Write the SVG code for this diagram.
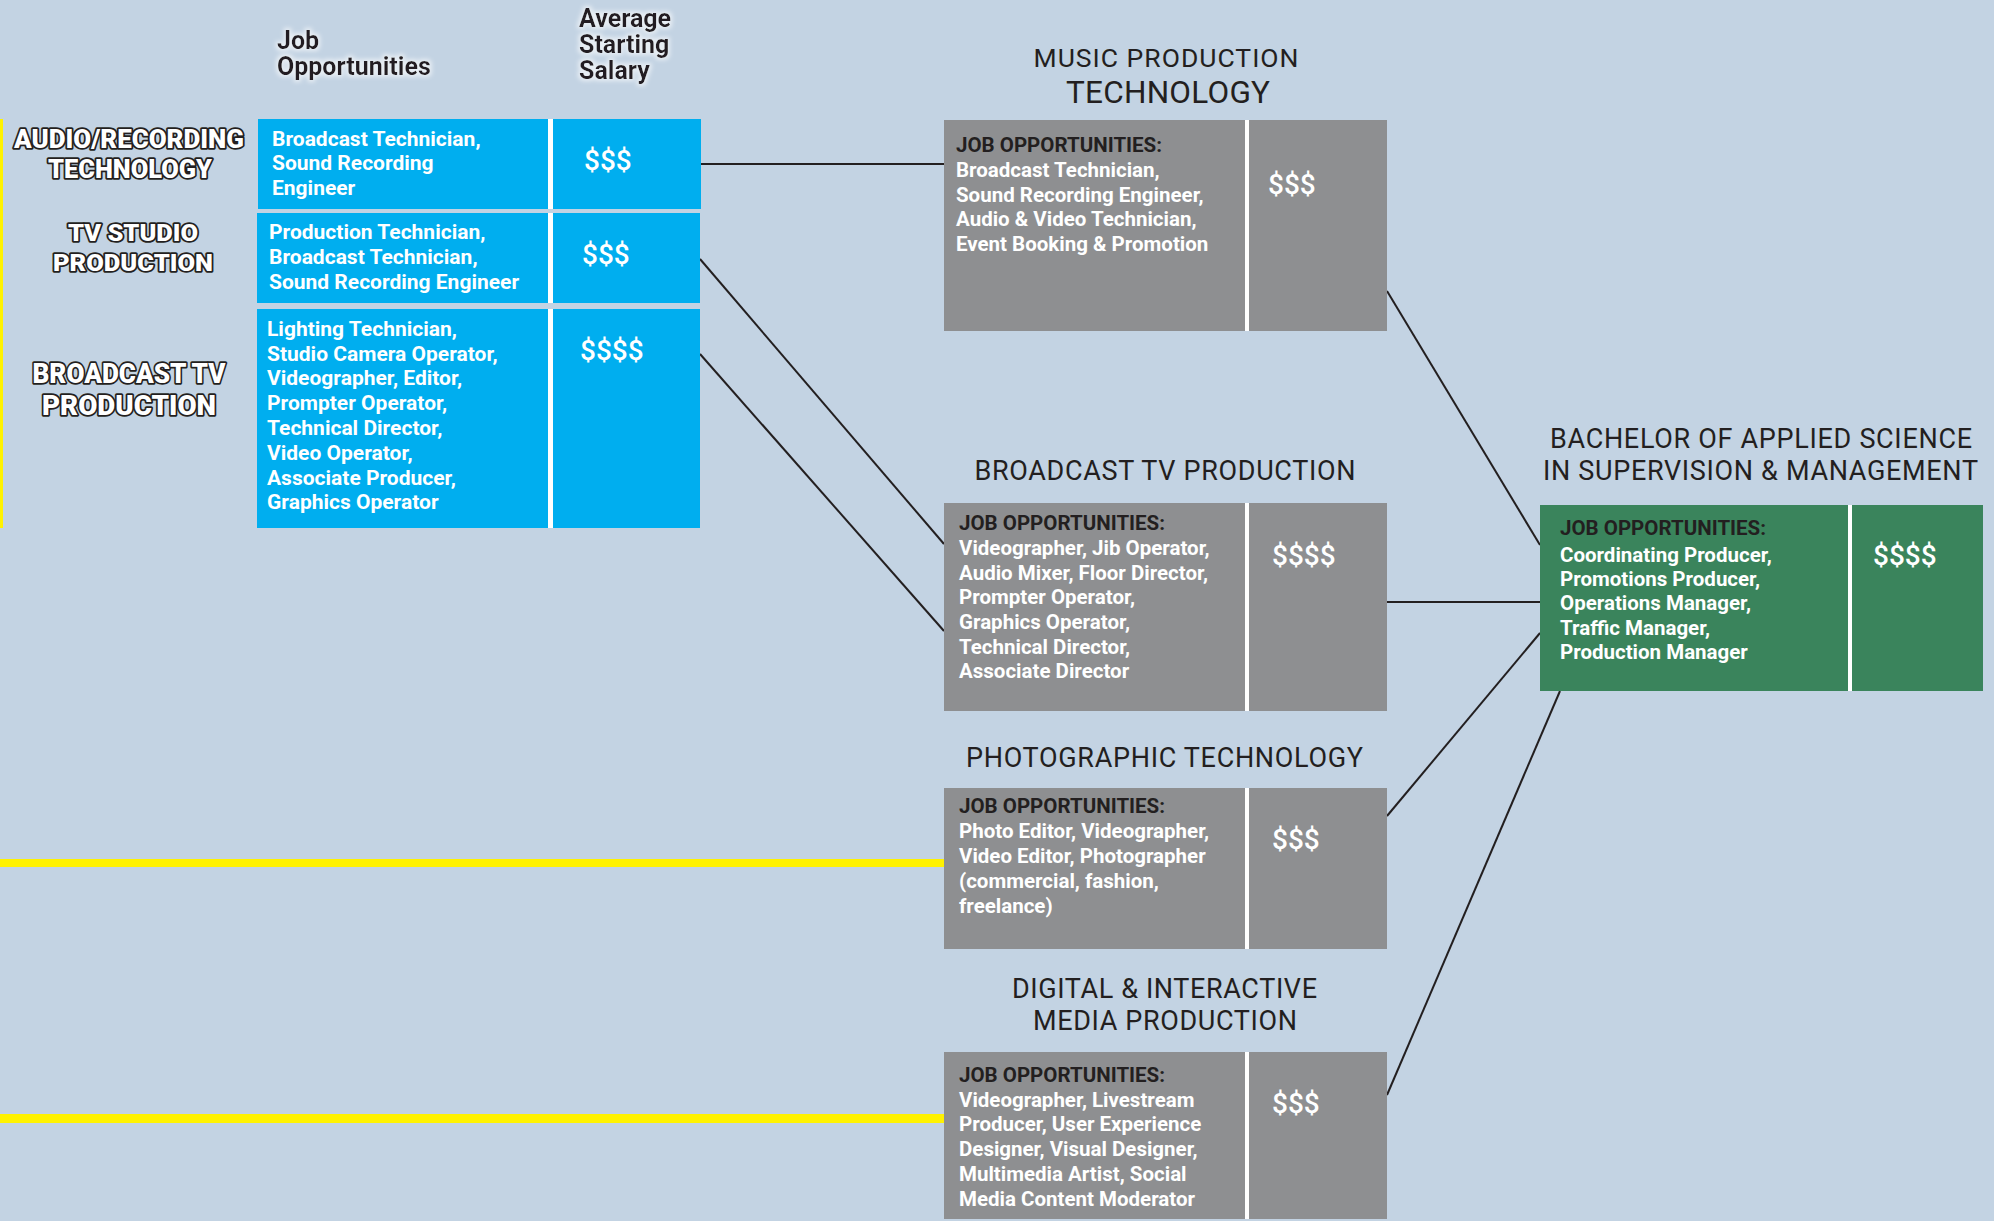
<svg xmlns="http://www.w3.org/2000/svg" width="1994" height="1221" viewBox="0 0 1994 1221">
<defs>
<filter id="glow" x="-20%" y="-40%" width="140%" height="180%">
<feMorphology in="SourceAlpha" operator="dilate" radius="1.5" result="d"/>
<feGaussianBlur in="d" stdDeviation="2" result="b"/>
<feFlood flood-color="#ffffff" flood-opacity="0.6"/>
<feComposite in2="b" operator="in" result="g"/>
<feMerge><feMergeNode in="g"/><feMergeNode in="SourceGraphic"/></feMerge>
</filter>
</defs>
<style>
.hdr{font-family:Roboto,"Liberation Sans",sans-serif;font-weight:700;font-size:25px;fill:#231f20}
.lbl{font-family:Roboto,"Liberation Sans",sans-serif;font-weight:900;fill:#fff;stroke:#231f20;stroke-width:3.5;paint-order:stroke;stroke-linejoin:round;text-anchor:middle}
.bt{font-family:Roboto,"Liberation Sans",sans-serif;font-weight:700;font-size:21px;fill:#fff}
.gt{font-family:Roboto,"Liberation Sans",sans-serif;font-weight:700;font-size:20.5px;fill:#fff}
.jo{fill:#231f20}
.sal{font-family:Roboto,"Liberation Sans",sans-serif;font-weight:500;font-size:28px;fill:#fff}
.ttl{font-family:Roboto,"Liberation Sans",sans-serif;font-weight:400;fill:#231f20;text-anchor:middle}
.blue{fill:#00aeef}
.gray{fill:#8e8f91}
.green{fill:#3a845c}
.div{fill:#fff}
.conn{stroke:#231f20;stroke-width:2;fill:none}
.yel{fill:#fff200}
</style>
<rect width="1994" height="1221" fill="#c3d3e3"/>

<g id="yellow-lines">
<rect class="yel" x="0" y="119" width="3" height="409"/>
<rect class="yel" x="0" y="859" width="944" height="8"/>
<rect class="yel" x="0" y="1114" width="944" height="9"/>
</g>

<g id="headers" filter="url(#glow)">
<text class="hdr" x="277" y="49">Job</text>
<text class="hdr" x="277" y="75">Opportunities</text>
<text class="hdr" x="579" y="27">Average</text>
<text class="hdr" x="579" y="53">Starting</text>
<text class="hdr" x="579" y="79">Salary</text>
</g>

<g id="connectors">
<line class="conn" x1="701" y1="164" x2="944" y2="164"/>
<line class="conn" x1="700" y1="259" x2="944" y2="544"/>
<line class="conn" x1="700" y1="354" x2="944" y2="631"/>
<line class="conn" x1="1387" y1="291" x2="1540" y2="545"/>
<line class="conn" x1="1387" y1="602" x2="1540" y2="602"/>
<line class="conn" x1="1387" y1="816" x2="1540" y2="633"/>
<line class="conn" x1="1387" y1="1095" x2="1560" y2="691"/>
</g>

<g id="audio-recording">
<text class="lbl" x="129" y="148" font-size="25" textLength="230" lengthAdjust="spacingAndGlyphs">AUDIO/RECORDING</text>
<text class="lbl" x="130" y="178" font-size="25" textLength="164" lengthAdjust="spacingAndGlyphs">TECHNOLOGY</text>
<rect class="blue" x="258" y="119" width="443" height="90"/>
<rect class="div" x="548" y="119" width="5" height="90"/>
<text class="bt" x="272" y="146">Broadcast Technician,</text>
<text class="bt" x="272" y="170">Sound Recording</text>
<text class="bt" x="272" y="195">Engineer</text>
<text class="sal" x="584" y="170">$$$</text>
</g>

<g id="tv-studio">
<text class="lbl" x="133" y="241" font-size="24" textLength="130" lengthAdjust="spacingAndGlyphs">TV STUDIO</text>
<text class="lbl" x="133" y="271" font-size="24" textLength="160" lengthAdjust="spacingAndGlyphs">PRODUCTION</text>
<rect class="blue" x="257" y="213" width="443" height="90"/>
<rect class="div" x="548" y="213" width="5" height="90"/>
<text class="bt" x="269" y="239">Production Technician,</text>
<text class="bt" x="269" y="264">Broadcast Technician,</text>
<text class="bt" x="269" y="289">Sound Recording Engineer</text>
<text class="sal" x="582" y="264">$$$</text>
</g>

<g id="broadcast-tv-left">
<text class="lbl" x="129" y="383" font-size="28" textLength="193" lengthAdjust="spacingAndGlyphs">BROADCAST TV</text>
<text class="lbl" x="129" y="415" font-size="28" textLength="174" lengthAdjust="spacingAndGlyphs">PRODUCTION</text>
<rect class="blue" x="257" y="309" width="443" height="219"/>
<rect class="div" x="548" y="309" width="5" height="219"/>
<text class="bt" x="267" y="336">Lighting Technician,</text>
<text class="bt" x="267" y="361">Studio Camera Operator,</text>
<text class="bt" x="267" y="385">Videographer, Editor,</text>
<text class="bt" x="267" y="410">Prompter Operator,</text>
<text class="bt" x="267" y="435">Technical Director,</text>
<text class="bt" x="267" y="460">Video Operator,</text>
<text class="bt" x="267" y="485">Associate Producer,</text>
<text class="bt" x="267" y="509">Graphics Operator</text>
<text class="sal" x="580" y="360">$$$$</text>
</g>

<g id="music-production">
<text class="ttl" x="1166" y="67" font-size="26.5" textLength="265" lengthAdjust="spacing">MUSIC PRODUCTION</text>
<text class="ttl" x="1168" y="103" font-size="31.5" textLength="204" lengthAdjust="spacing">TECHNOLOGY</text>
<rect class="gray" x="944" y="120" width="443" height="211"/>
<rect class="div" x="1245" y="120" width="4" height="211"/>
<text class="gt" x="956" y="152"><tspan class="jo">JOB OPPORTUNITIES:</tspan></text>
<text class="gt" x="956" y="177">Broadcast Technician,</text>
<text class="gt" x="956" y="202">Sound Recording Engineer,</text>
<text class="gt" x="956" y="226">Audio &amp; Video Technician,</text>
<text class="gt" x="956" y="251">Event Booking &amp; Promotion</text>
<text class="sal" x="1268" y="194">$$$</text>
</g>

<g id="broadcast-tv">
<text class="ttl" x="1165" y="480" font-size="27" textLength="381" lengthAdjust="spacing">BROADCAST TV PRODUCTION</text>
<rect class="gray" x="944" y="503" width="443" height="208"/>
<rect class="div" x="1245" y="503" width="4" height="208"/>
<text class="gt" x="959" y="530"><tspan class="jo">JOB OPPORTUNITIES:</tspan></text>
<text class="gt" x="959" y="555">Videographer, Jib Operator,</text>
<text class="gt" x="959" y="580">Audio Mixer, Floor Director,</text>
<text class="gt" x="959" y="604">Prompter Operator,</text>
<text class="gt" x="959" y="629">Graphics Operator,</text>
<text class="gt" x="959" y="654">Technical Director,</text>
<text class="gt" x="959" y="678">Associate Director</text>
<text class="sal" x="1272" y="565">$$$$</text>
</g>

<g id="photographic">
<text class="ttl" x="1164.5" y="767" font-size="27" textLength="397" lengthAdjust="spacing">PHOTOGRAPHIC TECHNOLOGY</text>
<rect class="gray" x="944" y="788" width="443" height="161"/>
<rect class="div" x="1245" y="788" width="4" height="161"/>
<text class="gt" x="959" y="813"><tspan class="jo">JOB OPPORTUNITIES:</tspan></text>
<text class="gt" x="959" y="838">Photo Editor, Videographer,</text>
<text class="gt" x="959" y="863">Video Editor, Photographer</text>
<text class="gt" x="959" y="888">(commercial, fashion,</text>
<text class="gt" x="959" y="913">freelance)</text>
<text class="sal" x="1272" y="849">$$$</text>
</g>

<g id="digital-interactive">
<text class="ttl" x="1164.5" y="998" font-size="27" textLength="305" lengthAdjust="spacing">DIGITAL &amp; INTERACTIVE</text>
<text class="ttl" x="1165" y="1030" font-size="27" textLength="264" lengthAdjust="spacing">MEDIA PRODUCTION</text>
<rect class="gray" x="944" y="1052" width="443" height="167"/>
<rect class="div" x="1245" y="1052" width="4" height="167"/>
<text class="gt" x="959" y="1082"><tspan class="jo">JOB OPPORTUNITIES:</tspan></text>
<text class="gt" x="959" y="1107">Videographer, Livestream</text>
<text class="gt" x="959" y="1131">Producer, User Experience</text>
<text class="gt" x="959" y="1156">Designer, Visual Designer,</text>
<text class="gt" x="959" y="1181">Multimedia Artist, Social</text>
<text class="gt" x="959" y="1206">Media Content Moderator</text>
<text class="sal" x="1272" y="1113">$$$</text>
</g>

<g id="bachelor">
<text class="ttl" x="1761" y="448" font-size="27" textLength="422" lengthAdjust="spacing">BACHELOR OF APPLIED SCIENCE</text>
<text class="ttl" x="1760.5" y="480" font-size="27" textLength="435" lengthAdjust="spacing">IN SUPERVISION &amp; MANAGEMENT</text>
<rect class="green" x="1540" y="505" width="443" height="186"/>
<rect class="div" x="1848" y="505" width="4" height="186"/>
<text class="gt" x="1560" y="535"><tspan class="jo">JOB OPPORTUNITIES:</tspan></text>
<text class="gt" x="1560" y="562">Coordinating Producer,</text>
<text class="gt" x="1560" y="586">Promotions Producer,</text>
<text class="gt" x="1560" y="610">Operations Manager,</text>
<text class="gt" x="1560" y="635">Traffic Manager,</text>
<text class="gt" x="1560" y="659">Production Manager</text>
<text class="sal" x="1873" y="565">$$$$</text>
</g>
</svg>
